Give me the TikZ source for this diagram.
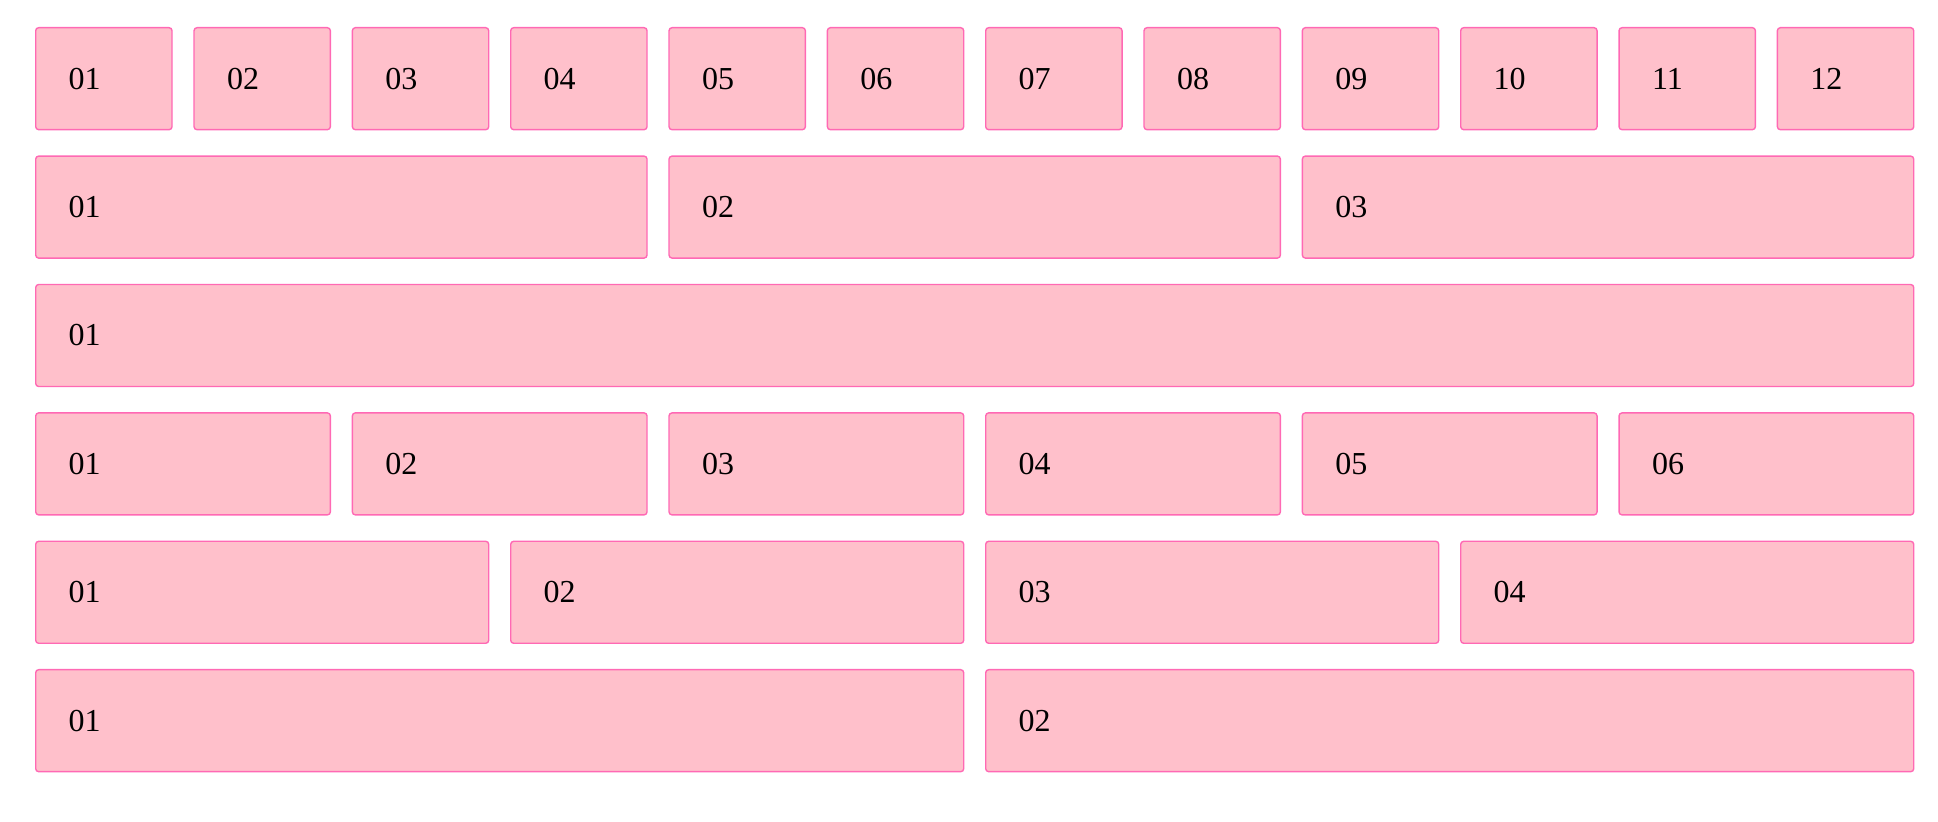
\documentclass[tikz,border=0pt]{standalone}
\usepackage{fontspec}
\setmainfont{Liberation Serif}
\definecolor{boxpink}{HTML}{FFC0CB}
\definecolor{edgepink}{HTML}{FF69B4}
\tikzset{
  cell/.style={draw=edgepink, fill=boxpink, line width=0.7pt, rounded corners=1.5pt,
    anchor=north west, minimum height=51pt, inner xsep=16.5pt, inner ysep=0pt,
    align=left, font=\fontsize{16}{19}\selectfont},
  span1/.style={cell, text width=35.17pt},
  span2/.style={cell, text width=114.33pt},
  span3/.style={cell, text width=193.5pt},
  span4/.style={cell, text width=272.67pt},
  span6/.style={cell, text width=431pt},
  span12/.style={cell, text width=906pt}
}
\begin{document}
\begin{tikzpicture}[x=0.5pt, y=-0.5pt]
      \useasboundingbox (0, 0) rectangle (1938, 822);
      \begin{scope}
        % twelve columns
        \node[span1] (a1) at (35, 27) {01};
        \node[span1] (a2) at (193.33, 27) {02};
        \node[span1] (a3) at (351.67, 27) {03};
        \node[span1] (a4) at (510, 27) {04};
        \node[span1] (a5) at (668.33, 27) {05};
        \node[span1] (a6) at (826.67, 27) {06};
        \node[span1] (a7) at (985, 27) {07};
        \node[span1] (a8) at (1143.33, 27) {08};
        \node[span1] (a9) at (1301.67, 27) {09};
        \node[span1] (a10) at (1460, 27) {10};
        \node[span1] (a11) at (1618.33, 27) {11};
        \node[span1] (a12) at (1776.67, 27) {12};
        % three columns
        \node[span4] (b1) at (35, 155.4) {01};
        \node[span4] (b2) at (668.33, 155.4) {02};
        \node[span4] (b3) at (1301.67, 155.4) {03};
        % one column
        \node[span12] (c1) at (35, 283.8) {01};
        % six columns
        \node[span2] (d1) at (35, 412.2) {01};
        \node[span2] (d2) at (351.67, 412.2) {02};
        \node[span2] (d3) at (668.33, 412.2) {03};
        \node[span2] (d4) at (985, 412.2) {04};
        \node[span2] (d5) at (1301.67, 412.2) {05};
        \node[span2] (d6) at (1618.33, 412.2) {06};
        % four columns
        \node[span3] (e1) at (35, 540.6) {01};
        \node[span3] (e2) at (510, 540.6) {02};
        \node[span3] (e3) at (985, 540.6) {03};
        \node[span3] (e4) at (1460, 540.6) {04};
        % two columns
        \node[span6] (f1) at (35, 669) {01};
        \node[span6] (f2) at (985, 669) {02};
      \end{scope}
    \end{tikzpicture}
\end{document}
